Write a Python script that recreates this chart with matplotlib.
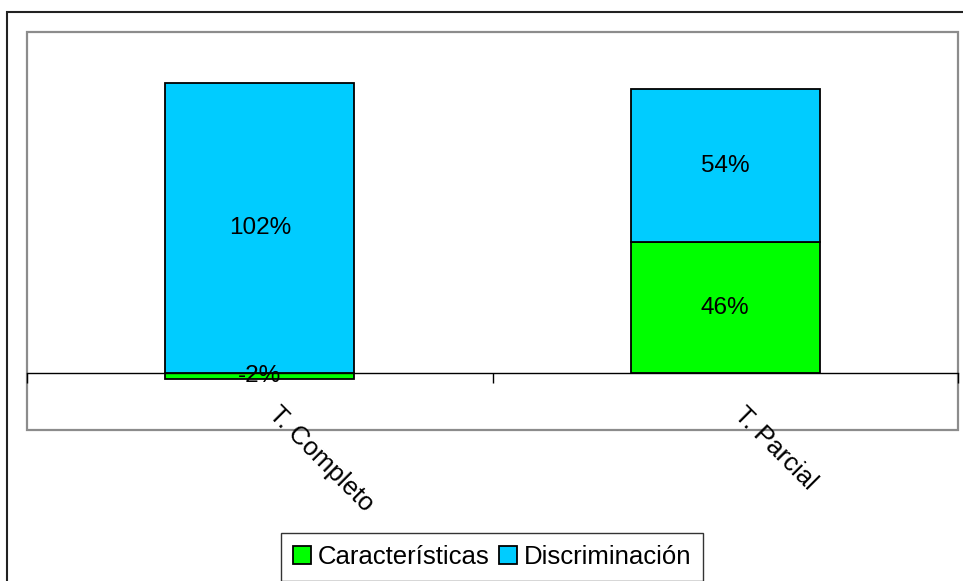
import matplotlib
matplotlib.use("Agg")
import matplotlib.pyplot as plt
from matplotlib.patches import Rectangle
from matplotlib.transforms import offset_copy
import numpy as np

plt.rcParams['font.family'] = ['Liberation Sans', 'DejaVu Sans']

categories = ["T. Completo", "T. Parcial"]
series_names = ["Características", "Discriminación"]
caracteristicas = [-2, 46]
discriminacion = [102, 54]
colors = ["#00FF00", "#00CCFF"]

W, H, DPI = 963, 581, 100
fig = plt.figure(figsize=(W / DPI, H / DPI), dpi=DPI)

# plot area in pixel terms
px_l, px_r, px_t, px_b = 27, 958, 32, 430
ax = fig.add_axes([px_l / W, (H - px_b) / H, (px_r - px_l) / W, (px_b - px_t) / H])

x = np.arange(len(categories))
bar_w = 0.405
FS = 17.5
FS_AX = 18.5

pos_base = np.zeros(len(categories))
neg_base = np.zeros(len(categories))
handles = []
for vals, name, col in zip([caracteristicas, discriminacion], series_names, colors):
    vals = np.array(vals, dtype=float)
    bottoms = np.where(vals >= 0, pos_base, neg_base)
    bars = ax.bar(x, vals, bar_w, bottom=bottoms, color=col, edgecolor="black",
                  linewidth=1.3, label=name, zorder=3)
    handles.append(bars)
    for xi, v, b in zip(x, vals, bottoms):
        ax.text(xi, b + v / 2, f"{int(v)}%", ha="center", va="center",
                fontsize=FS, color="black", zorder=5)
    pos_base = pos_base + np.where(vals >= 0, vals, 0)
    neg_base = neg_base + np.where(vals < 0, vals, 0)

ax.set_xlim(-0.5, len(categories) - 0.5)
ax.set_ylim(-20, 120)

# plot-area frame
for s in ["top", "left", "right"]:
    ax.spines[s].set_visible(False)
ax.add_patch(Rectangle((0, 0), 1, 1, transform=ax.transAxes, fill=False,
                       edgecolor="#8c8c8c", linewidth=1.6, zorder=1, clip_on=False))

# category axis on the zero line
ax.spines["bottom"].set_position(("data", 0))
ax.spines["bottom"].set_color("black")
ax.spines["bottom"].set_linewidth(1.0)
ax.spines["bottom"].set_zorder(4)
ax.set_yticks([])
ax.set_xticks(np.arange(-0.5, len(categories), 1.0))
ax.set_xticklabels([])
ax.tick_params(axis="x", direction="out", length=7, width=1.0, color="black")

# rotated category labels
for xi, lab in zip(x, categories):
    tr = offset_copy(ax.transData, fig=fig, x=15, y=-21, units="points")
    ax.text(xi, 0, lab, transform=tr, rotation=-45, rotation_mode="anchor",
            ha="left", va="top", fontsize=FS_AX, color="black", clip_on=False)

# outer chart border
fig.add_artist(Rectangle((7 / W, -0.1), 1.2, (H - 12) / H + 0.1,
                         transform=fig.transFigure, fill=False,
                         edgecolor="#222222", linewidth=1.5))

leg = fig.legend(handles=handles, labels=series_names, loc="center",
                 bbox_to_anchor=(492 / W, (H - 557) / H), ncol=2,
                 fontsize=FS_AX, frameon=True, fancybox=False, shadow=False,
                 handlelength=0.72, handleheight=0.72, handletextpad=0.25,
                 columnspacing=0.35, borderpad=0.45, borderaxespad=0)
leg.get_frame().set_edgecolor("black")
leg.get_frame().set_linewidth(1.0)

fig.savefig("out.png", dpi=DPI, facecolor="white")
